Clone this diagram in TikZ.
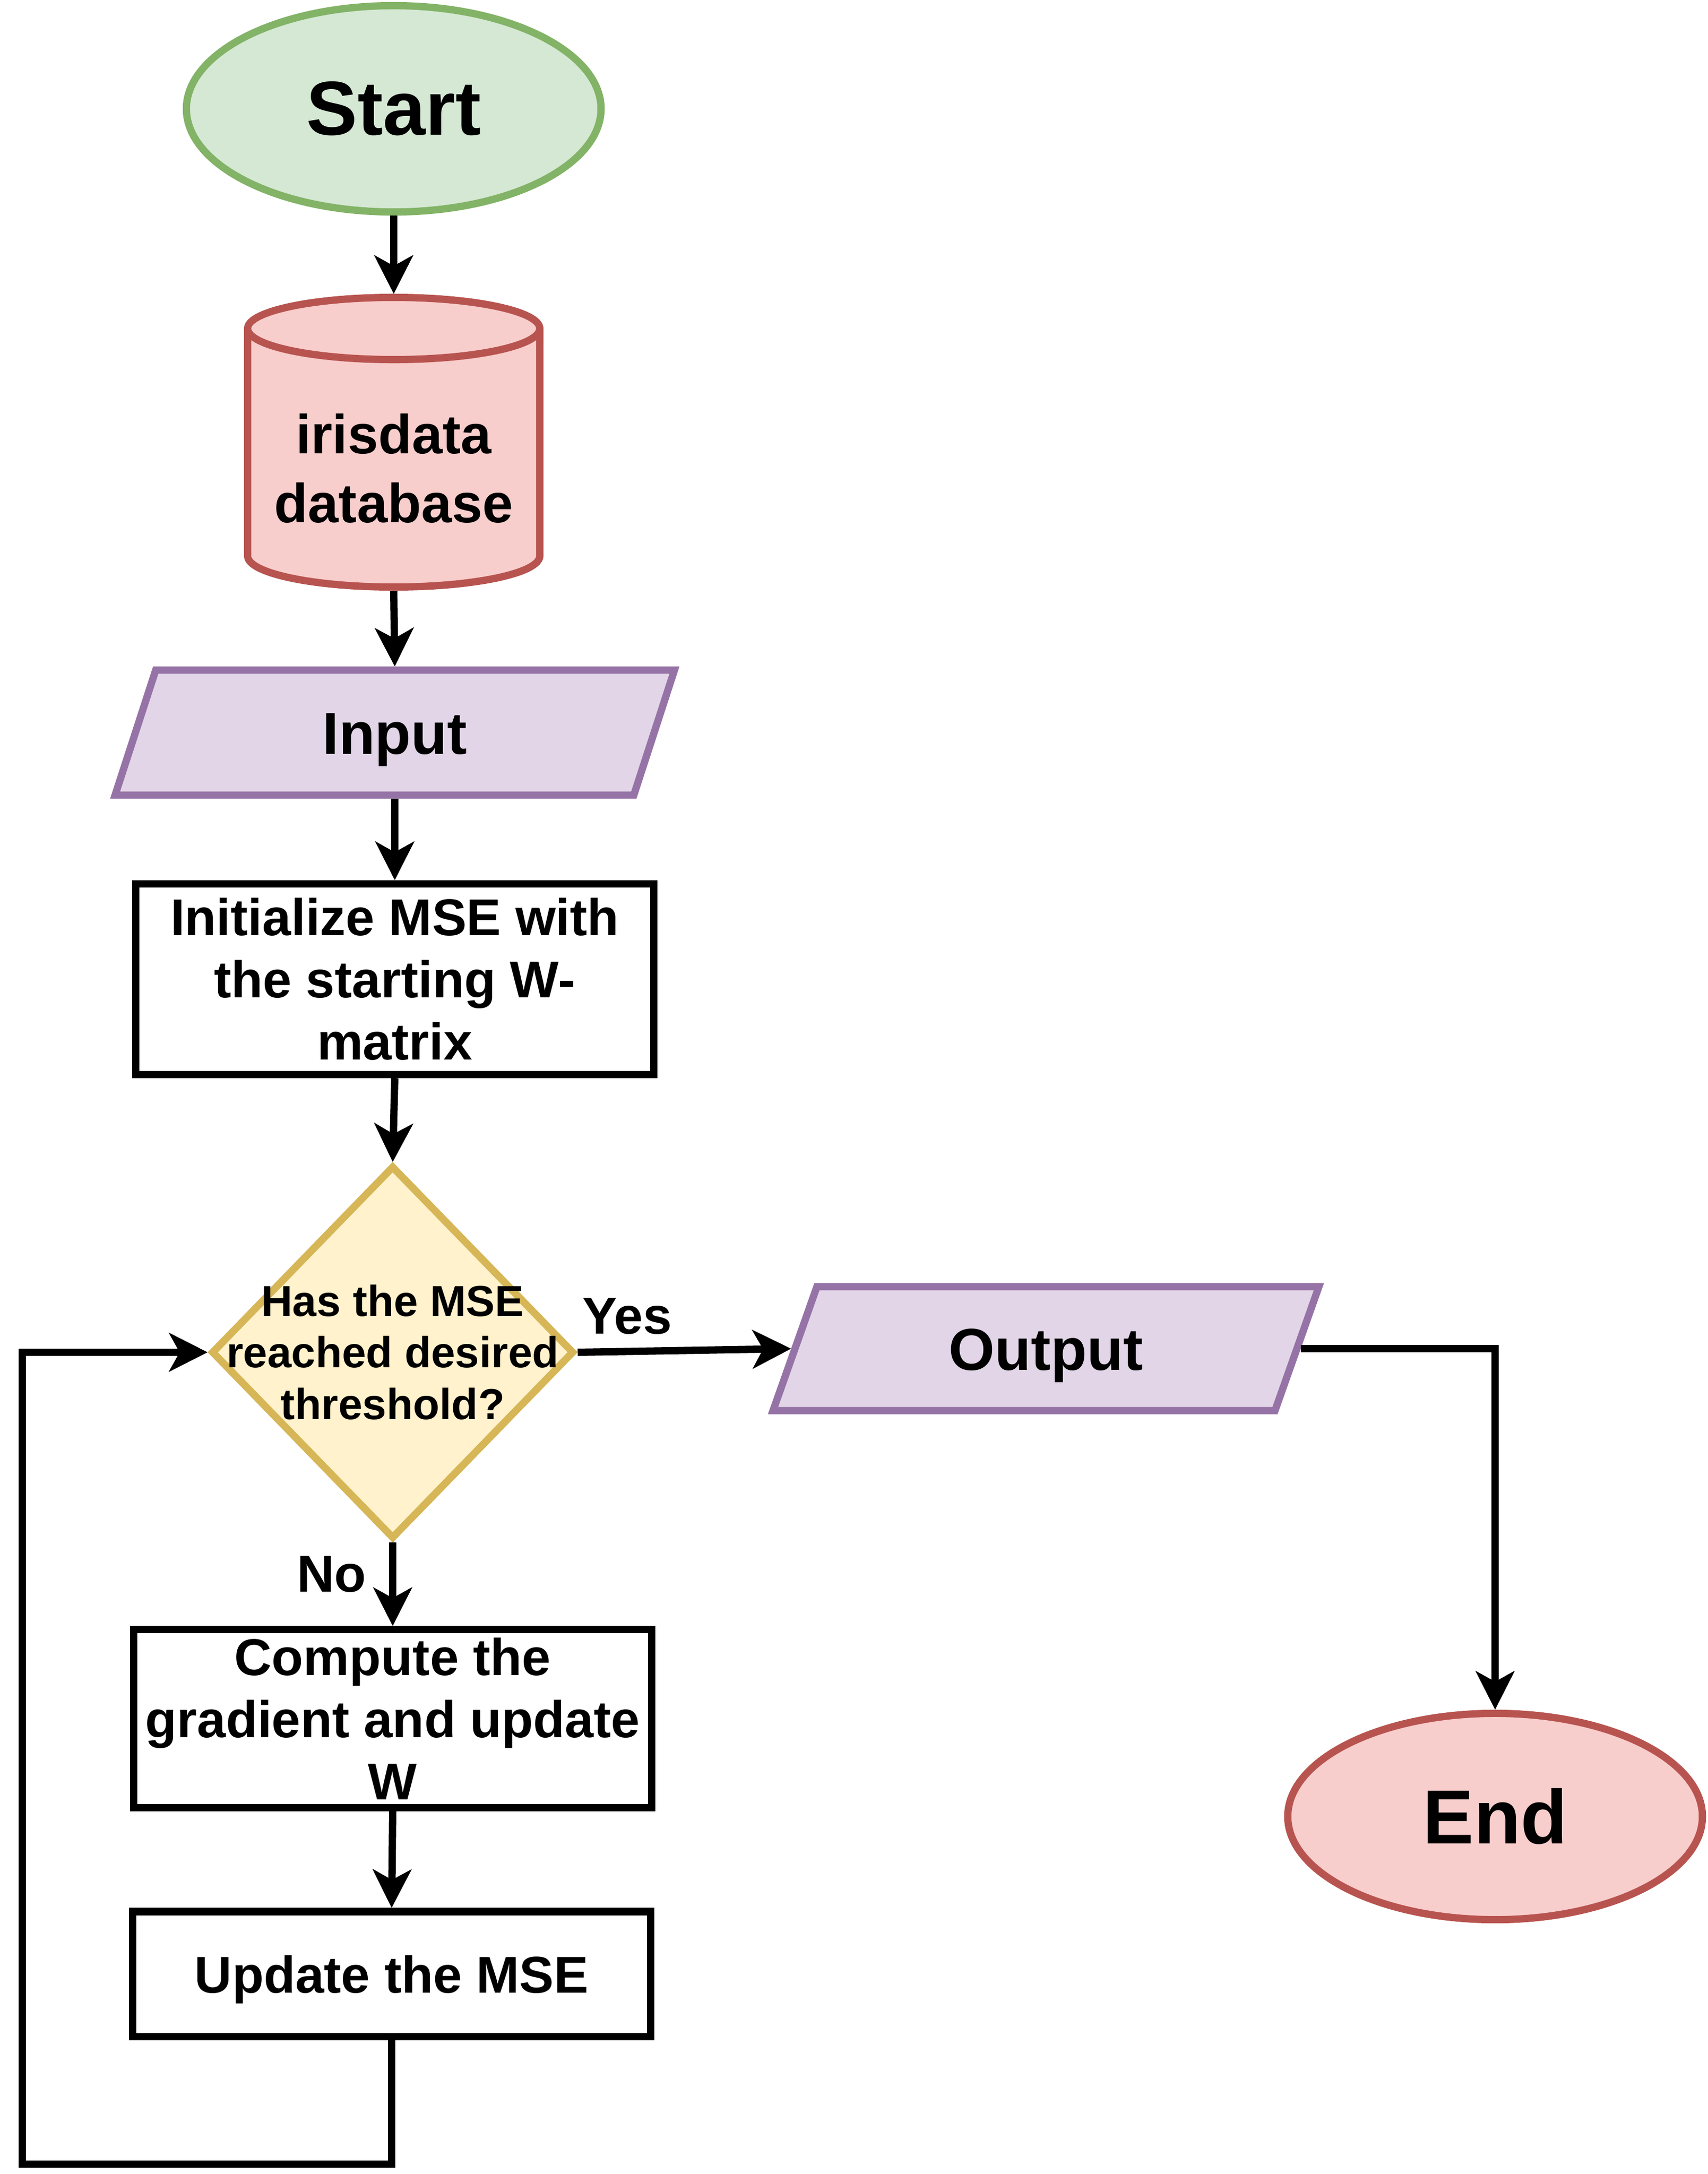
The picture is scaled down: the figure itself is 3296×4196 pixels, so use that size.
\documentclass[tikz,border=0pt]{standalone}
\usepackage{fontspec}
\setmainfont{Liberation Sans}
\usetikzlibrary{shapes.geometric,arrows.meta}

\definecolor{startfill}{HTML}{D5E8D4}
\definecolor{startdraw}{HTML}{82B366}
\definecolor{stopfill}{HTML}{F8CECC}
\definecolor{stopdraw}{HTML}{B85450}
\definecolor{iofill}{HTML}{E1D5E7}
\definecolor{iodraw}{HTML}{9673A6}
\definecolor{decfill}{HTML}{FFF2CC}
\definecolor{decdraw}{HTML}{D6B656}

\begin{document}
\begin{tikzpicture}[x=0.01cm, y=-0.01cm, line width=4pt,
  flow/.style={-{Stealth[length=0.74cm, width=0.74cm, inset=0.2cm]}},
  term/.style={ellipse, inner sep=0pt, minimum width=8cm, minimum height=3.98cm,
    font=\bfseries\fontsize{42}{50}\selectfont},
  io/.style={trapezium, trapezium stretches body=true, inner sep=0pt,
    draw=iodraw, fill=iofill, font=\bfseries\fontsize{32.5}{38}\selectfont},
  proc/.style={rectangle, draw=black, fill=white, inner sep=0pt, minimum width=10cm,
    align=center, font=\bfseries\fontsize{28.4}{34.1}\selectfont},
  decision/.style={diamond, draw=decdraw, fill=decfill, inner sep=0pt,
    minimum width=7cm, minimum height=7.2cm},
  qtext/.style={align=center, font=\bfseries\fontsize{23.8}{28.2}\selectfont},
  dbtext/.style={align=center, font=\bfseries\fontsize{30.2}{37.6}\selectfont},
  lbl/.style={font=\bfseries\fontsize{28.5}{34}\selectfont}]
\useasboundingbox (0,0) rectangle (3296,4196);

% database drum
\path[fill=stopfill, draw=stopdraw] (478,634) -- (478,1073)
  arc[start angle=180, end angle=0, x radius=282, y radius=60] -- (1042,634)
  arc[start angle=0, end angle=-180, x radius=282, y radius=60] -- cycle;
\draw[stopdraw] (1042,634) arc[start angle=0, end angle=180, x radius=282, y radius=60];

\node[term, draw=startdraw, fill=startfill] (start) at (760,210) {Start};
\node[minimum width=5.64cm, minimum height=5.59cm,
  label={[dbtext, yshift=-0.5cm]center:{irisdata\\database}}] (db) at (760,854) {};
\node[io, trapezium left angle=72, trapezium right angle=108, minimum width=10.79cm,
  text height=1.615cm, text depth=0.795cm] (inp) at (762,1414) {Input};
\node[proc, minimum height=3.68cm] (init) at (762,1890) {Initialize MSE with\\the starting W-\\matrix};
\node[decision, label={[qtext]center:{Has the MSE\\reached desired\\threshold?}}] (dec) at (758,2610) {};
\node[io, trapezium left angle=70.5, trapezium right angle=109.5, minimum width=10.53cm,
  text height=1.605cm, text depth=0.785cm] (out) at (2019,2603) {Output};
\node[term, draw=stopdraw, fill=stopfill] (stop) at (2886,3506) {End};
\node[proc, minimum width=9.99cm, minimum height=3.43cm] (grad) at (758,3317) {Compute the\\gradient and update\\W};
\node[proc, minimum width=9.99cm, minimum height=2.41cm, text depth=0pt] (upd) at (756,3810) {Update the MSE};
\node[lbl] (yes) at (1211,2540) {Yes};
\node[lbl] (no) at (640,3038) {No};
\coordinate (back) at (43,4177);

% connectors
\draw[flow] (start.south) -- (db.north);
\draw[flow] (db.south) -- (inp.north);
\draw[flow] (inp.south) -- (init.north);
\draw[flow] (init.south) -- (dec.north);
\draw[flow] (dec.east) -- (out.west);
\draw[flow] (out.east) -| (stop.north);
\draw[flow] (dec.south) -- (grad.north);
\draw[flow] (grad.south) -- (upd.north);
\draw[flow] (upd.south) |- (back) |- (dec.west);
\end{tikzpicture}
\end{document}
